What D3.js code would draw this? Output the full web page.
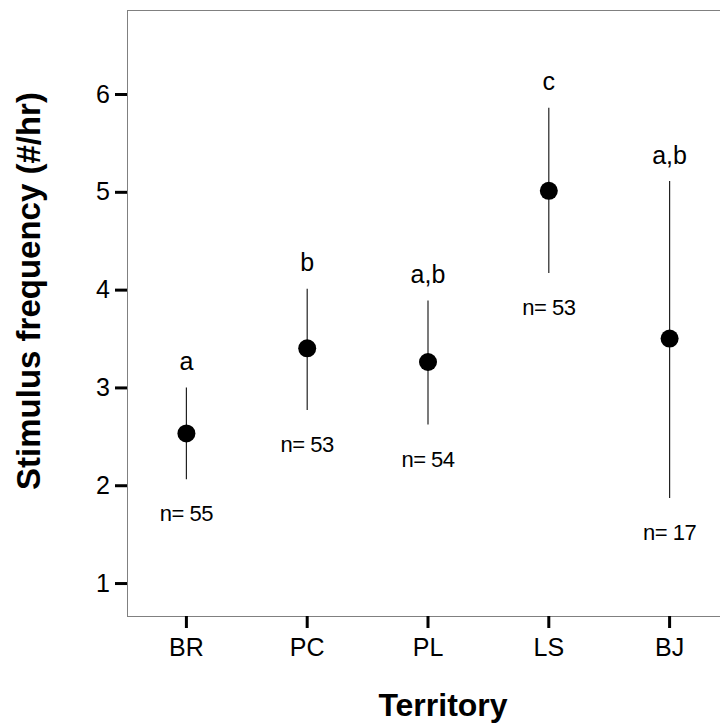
<!DOCTYPE html>
<html>
<head>
<meta charset="utf-8">
<script src="https://cdn.jsdelivr.net/npm/d3@7"></script>
<style>
  body { margin: 0; background: #fff; }
  text { font-family: Arial, "Liberation Sans", sans-serif; fill: #000; }
</style>
</head>
<body>
<script>
// territory means with error bars
var territories = ["BR", "PC", "PL", "LS", "BJ"];
var means = [2.53, 3.40, 3.26, 5.01, 3.50];
var upper = [3.00, 4.01, 3.89, 5.86, 5.11];
var lower = [2.06, 2.77, 2.62, 4.17, 1.87];
var groups = ["a", "b", "a,b", "c", "a,b"];
var counts = [55, 53, 54, 53, 17];
var yTicks = [1, 2, 3, 4, 5, 6];

var w = 720, h = 727;
var margin = {left: 126, right: 730, top: 10, bottom: 616};

var svg = d3.select("body")
	.append("svg")
	.attr("width", w)
	.attr("height", h);

var x = d3.scaleBand()
	.domain(territories)
	.range([margin.left, margin.right]);

var y = d3.scaleLinear()
	.domain([0.663, 6.859])
	.range([margin.bottom, margin.top]);

var data = territories.map((t, i) => {
	return {name: t, mean: means[i], hi: upper[i], lo: lower[i], grp: groups[i], n: counts[i]};
});

// plot frame
svg.append("rect")
	.attr("x", margin.left + 1.5)
	.attr("y", margin.top + 0.5)
	.attr("width", margin.right - margin.left)
	.attr("height", margin.bottom - margin.top)
	.attr("fill", "none")
	.attr("stroke", "#808080")
	.attr("stroke-width", 1);

// axes
var leftAxis = d3.axisLeft(y)
	.tickValues(yTicks)
	.tickSize(12)
	.tickPadding(5)
	.tickFormat(d3.format("d"));

svg.append("g")
	.attr("class", "left axis")
	.attr("transform", "translate(" + (margin.left + 1) + ",0)")
	.call(leftAxis)
	.call(g => g.select(".domain").remove())
	.call(g => g.selectAll("line").attr("stroke", "#000").attr("stroke-width", 3))
	.call(g => g.selectAll("text").attr("font-size", "25px").attr("font-family", "Arial, 'Liberation Sans', sans-serif"));

var bottomAxis = d3.axisBottom(x)
	.tickSize(12)
	.tickPadding(10);

svg.append("g")
	.attr("class", "bottom axis")
	.attr("transform", "translate(0," + margin.bottom + ")")
	.call(bottomAxis)
	.call(g => g.select(".domain").remove())
	.call(g => g.selectAll("line").attr("stroke", "#000").attr("stroke-width", 3))
	.call(g => g.selectAll("text").attr("font-size", "25px").attr("font-family", "Arial, 'Liberation Sans', sans-serif"));

// error bars
var cx = (d) => { return x(d.name) + x.bandwidth() / 2; };

svg.selectAll(".bar")
	.data(data)
	.enter()
	.append("line")
	.attr("class", "bar")
	.attr("x1", cx)
	.attr("x2", cx)
	.attr("y1", (d) => { return y(d.hi); })
	.attr("y2", (d) => { return y(d.lo); })
	.attr("stroke", "#222")
	.attr("stroke-width", 1.2);

svg.selectAll(".dot")
	.data(data)
	.enter()
	.append("circle")
	.attr("class", "dot")
	.attr("cx", cx)
	.attr("cy", (d) => { return y(d.mean); })
	.attr("r", 9)
	.attr("fill", "#000");

// group letters above, sample sizes below
svg.selectAll(".grp")
	.data(data)
	.enter()
	.append("text")
	.attr("class", "grp")
	.attr("x", cx)
	.attr("y", (d) => { return y(d.hi) - 17.5; })
	.attr("text-anchor", "middle")
	.attr("font-size", "25px")
	.text((d) => { return d.grp; });

svg.selectAll(".cnt")
	.data(data)
	.enter()
	.append("text")
	.attr("class", "cnt")
	.attr("x", cx)
	.attr("y", (d) => { return y(d.lo) + 42; })
	.attr("text-anchor", "middle")
	.attr("font-size", "22px")
	.attr("letter-spacing", "-0.5px")
	.text((d) => { return "n= " + d.n; });

// axis titles
svg.append("text")
	.attr("x", 443)
	.attr("y", 716)
	.attr("text-anchor", "middle")
	.attr("font-size", "32px")
	.attr("font-weight", "bold")
	.text("Territory");

svg.append("text")
	.attr("transform", "translate(40,291) rotate(-90)")
	.attr("text-anchor", "middle")
	.attr("font-size", "33px")
	.attr("font-weight", "bold")
	.text("Stimulus frequency (#/hr)");
</script>
</body>
</html>
